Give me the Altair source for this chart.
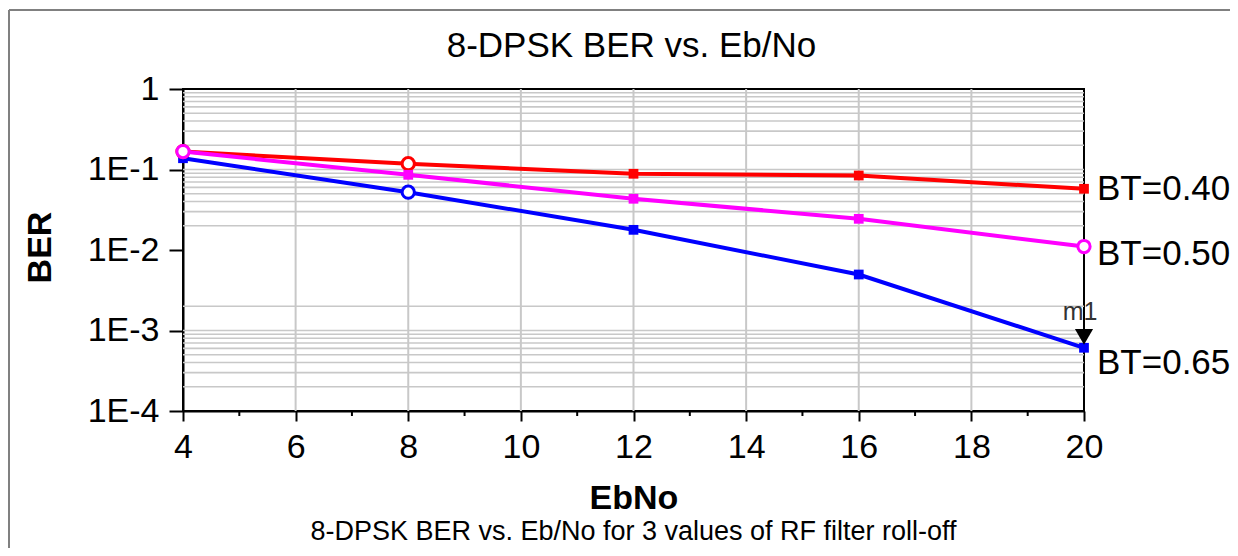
import altair as alt
import pandas as pd

# ---- data ----
ebno = [4, 8, 12, 16, 20]
ber_040 = [0.167, 0.118, 0.0885, 0.0842, 0.0576]
ber_050 = [0.167, 0.0859, 0.0433, 0.0244, 0.01105]
ber_065 = [0.138, 0.0523, 0.0178, 0.00496, 0.00061]
series_names = ["BT=0.40", "BT=0.50", "BT=0.65"]
series_colors = ["#FF0000", "#FF00FF", "#0000FF"]
# EbNo values where the ADS trace shows a circle marker instead of a square
circle_at = {"BT=0.40": [4, 8], "BT=0.50": [4, 20], "BT=0.65": [8]}

x_ticks = [4, 6, 8, 10, 12, 14, 16, 18, 20]
x_minor = [5, 7, 9, 11, 13, 15, 17, 19]
x_grid = [6, 8, 10, 12, 14, 16, 18]
y_ticks = [1, 0.1, 0.01, 0.001, 0.0001]
y_grid = [0.9, 0.8, 0.7, 0.6, 0.5, 0.4, 0.3, 0.2, 0.1,
          0.09, 0.08, 0.07, 0.06, 0.05, 0.04, 0.03, 0.02,
          0.002, 0.001,
          0.0009, 0.0008, 0.0007, 0.0006, 0.0005, 0.0004, 0.0003, 0.0002]

title_text = "8-DPSK BER vs. Eb/No"
caption_text = "8-DPSK BER vs. Eb/No for 3 values of RF filter roll-off"
marker_name = "m1"

FONT = "Liberation Sans"
W, H = 901, 322

rows = []
for name, vals in zip(series_names, [ber_040, ber_050, ber_065]):
    for x, v in zip(ebno, vals):
        rows.append({"EbNo": x, "BER": v, "series": name,
                     "circle": x in circle_at[name]})
df = pd.DataFrame(rows)

xscale = alt.Scale(domain=[4, 20], nice=False, zero=False)
yscale = alt.Scale(type="log", domain=[0.0001, 1], nice=False)
cscale = alt.Scale(domain=series_names, range=series_colors)

x_axis = alt.Axis(values=x_ticks, labelFlush=False, grid=False,
                  labelFont=FONT, labelFontSize=34, labelColor="black",
                  labelPadding=9, tickSize=10, tickWidth=2, tickColor="black",
                  domainColor="black", domainWidth=2,
                  title="EbNo", titleFont=FONT, titleFontSize=34,
                  titleFontWeight="bold", titleColor="black",
                  titleY=87, titleBaseline="middle")
y_axis = alt.Axis(values=y_ticks, grid=False,
                  labelExpr="datum.value >= 1 ? '1' : '1E' + round(log(datum.value)/LN10)",
                  labelFont=FONT, labelFontSize=34, labelColor="black",
                  labelPadding=10, tickSize=14, tickWidth=2, tickColor="black",
                  domainColor="black", domainWidth=2,
                  title="BER", titleFont=FONT, titleFontSize=34,
                  titleFontWeight="bold", titleColor="black",
                  titleX=-143, titleY=158, titleAngle=270,
                  titleAlign="center", titleBaseline="middle")

X = alt.X("EbNo:Q", scale=xscale, axis=x_axis)
Y = alt.Y("BER:Q", scale=yscale, axis=y_axis)

base = alt.Chart(df)

# axes carrier (invisible points) first
axes = base.mark_point(opacity=0).encode(x=X, y=Y)

# grid lines
grid_h = alt.Chart(pd.DataFrame({"BER": y_grid})).mark_rule(
    color="#c8c8c8", strokeWidth=1.6).encode(y=Y)
grid_v = alt.Chart(pd.DataFrame({"EbNo": x_grid})).mark_rule(
    color="#c8c8c8", strokeWidth=2).encode(x=X)
minor_ticks = alt.Chart(pd.DataFrame({"EbNo": x_minor})).mark_rule(
    color="black", strokeWidth=2).encode(x=X, y=alt.value(H), y2=alt.value(H + 5))

layers = [axes, grid_h, grid_v, minor_ticks]

label_dy = {"BT=0.40": 0, "BT=0.50": 7, "BT=0.65": 15}
for name in ["BT=0.65", "BT=0.40", "BT=0.50"]:
    sub = base.transform_filter(alt.datum.series == name)
    enc = dict(x=X, y=Y, color=alt.Color("series:N", scale=cscale, legend=None))
    layers.append(sub.mark_line(strokeWidth=4).encode(**enc))
    layers.append(sub.transform_filter("!datum.circle").mark_square(
        size=95, opacity=1).encode(**enc))
    layers.append(sub.transform_filter("datum.circle").mark_point(
        shape="circle", size=150, strokeWidth=3, fill="white", fillOpacity=1,
        opacity=1).encode(**enc))
    layers.append(sub.transform_filter(alt.datum.EbNo == ebno[-1]).mark_text(
        align="left", baseline="middle", dx=13, dy=label_dy[name],
        font=FONT, fontSize=35, color="black"
    ).encode(x=X, y=Y, text="series:N"))

# marker m1 on the last BT=0.65 point
mk = pd.DataFrame({"EbNo": [ebno[-1]], "BER": [ber_065[-1]], "name": [marker_name]})
mk_base = alt.Chart(mk)
layers.append(mk_base.mark_point(shape="triangle-down", size=330, filled=True,
                                 color="black", opacity=1, yOffset=-11).encode(x=X, y=Y))
layers.append(mk_base.mark_text(font=FONT, fontSize=25, color="#333333",
                                align="center", baseline="middle", dx=-4, dy=-36).encode(
    x=X, y=Y, text="name:N"))

# title and caption
layers.append(alt.Chart(pd.DataFrame({"t": [title_text]})).mark_text(
    font=FONT, fontSize=35, color="black", align="center", baseline="alphabetic"
).encode(x=alt.value(W / 2 - 2), y=alt.value(-32), text="t:N"))
layers.append(alt.Chart(pd.DataFrame({"t": [caption_text]})).mark_text(
    font=FONT, fontSize=27, color="black", align="center", baseline="middle"
).encode(x=alt.value(W / 2), y=alt.value(443), text="t:N"))

# outer gray frame
frame = pd.DataFrame({"k": [0]})
layers.append(alt.Chart(frame).mark_rule(color="#808080", strokeWidth=2).encode(
    x=alt.value(-174), x2=alt.value(W + 146), y=alt.value(-79)))
layers.append(alt.Chart(frame).mark_rule(color="#808080", strokeWidth=2).encode(
    x=alt.value(-174), y=alt.value(-79), y2=alt.value(H + 140)))

chart = alt.layer(*layers).properties(
    width=W, height=H,
    padding={"left": 175, "top": 81, "right": 146, "bottom": 137},
    autosize=alt.AutoSizeParams(type="none"),
    background="white",
).configure_view(stroke="black", strokeWidth=2)

chart.save("out.html", embed_options={"renderer": "svg", "actions": False})
